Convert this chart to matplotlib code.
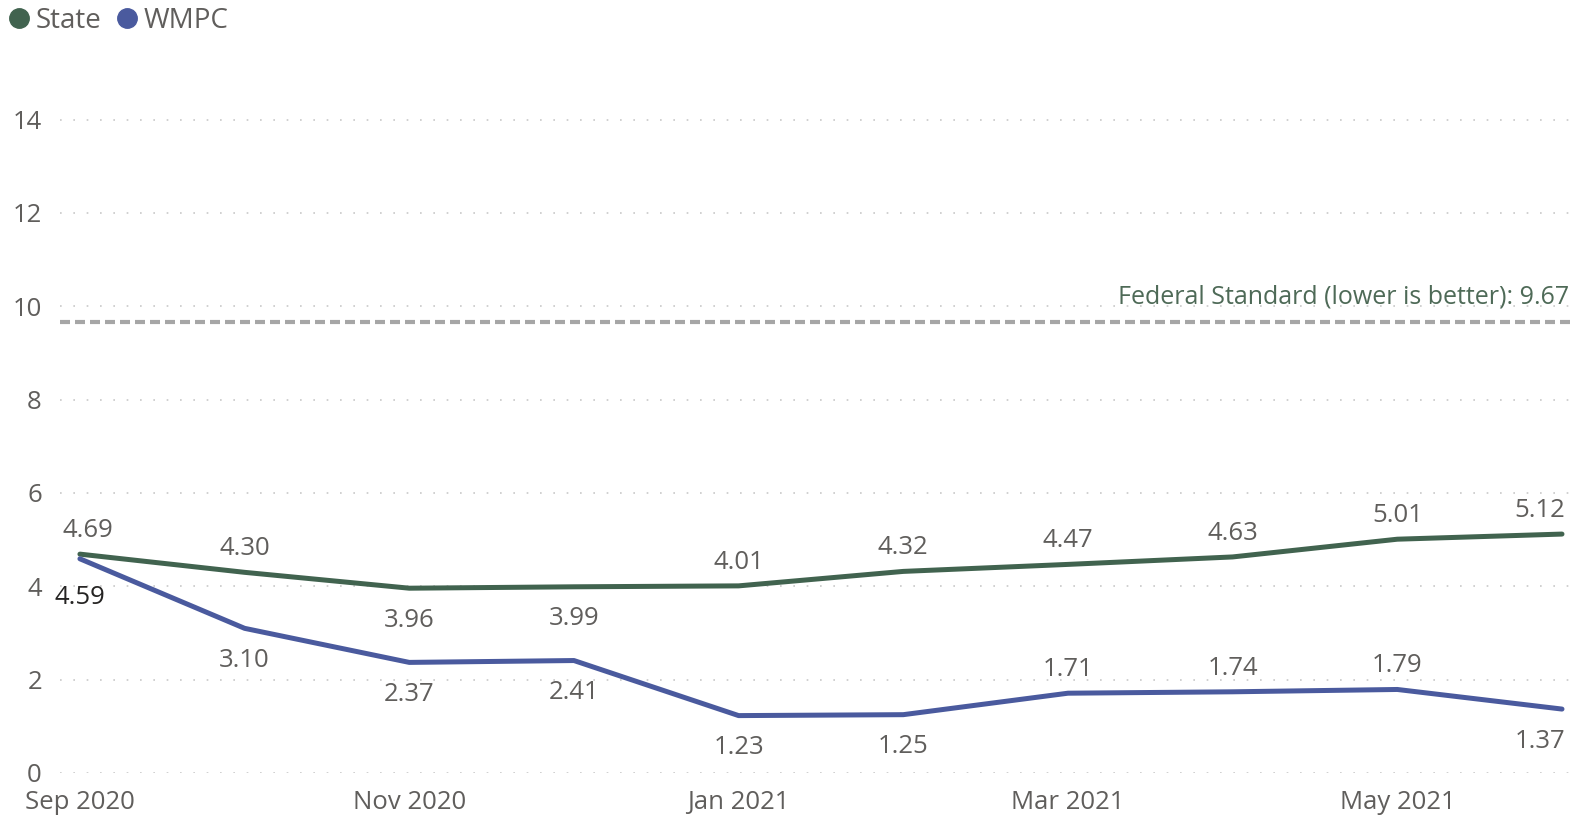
import numpy as np
import matplotlib
matplotlib.use("Agg")
import matplotlib.pyplot as plt
import matplotlib.transforms as mtransforms
from matplotlib.lines import Line2D

# ---------------------------------------------------------------------------
# Data
# ---------------------------------------------------------------------------

months = ["Sep 2020", "Oct 2020", "Nov 2020", "Dec 2020", "Jan 2021",
          "Feb 2021", "Mar 2021", "Apr 2021", "May 2021", "Jun 2021"]
state = [4.69, 4.30, 3.96, 3.99, 4.01, 4.32, 4.47, 4.63, 5.01, 5.12]
wmpc = [4.59, 3.10, 2.37, 2.41, 1.23, 1.25, 1.71, 1.74, 1.79, 1.37]
federal_standard = 9.67

# label placement: +1 above the point, -1 below
state_side = [1, 1, -1, -1, 1, 1, 1, 1, 1, 1]
wmpc_side = [-1, -1, -1, -1, -1, -1, 1, 1, 1, -1]

STATE_COLOR = "#41634F"
WMPC_COLOR = "#4A5A9E"
TEXT_COLOR = "#605E5C"
FED_COLOR = "#A6A6A6"
FED_TEXT = "#4E6A57"

plt.rcParams["font.family"] = ["Open Sans", "DejaVu Sans"]

fig = plt.figure(figsize=(15.91, 8.16), dpi=100)
ax = fig.add_axes([60 / 1591, 43 / 816, 1515 / 1591, 700 / 816])

x = np.arange(len(months))
ax.plot(x, state, color=STATE_COLOR, lw=3.6, solid_capstyle="round",
        solid_joinstyle="round", zorder=3)
ax.plot(x, wmpc, color=WMPC_COLOR, lw=3.6, solid_capstyle="round",
        solid_joinstyle="round", zorder=3)

ax.axhline(federal_standard, color=FED_COLOR, lw=3, linestyle=(0, (2.4, 1.2)), zorder=2)
fed_tr = ax.get_yaxis_transform() + mtransforms.ScaledTranslation(0, 25 / 100, fig.dpi_scale_trans)
ax.text(0.996, federal_standard, f"Federal Standard (lower is better): {federal_standard:.2f}",
        transform=fed_tr, ha="right", va="center", fontsize=18, color=FED_TEXT)


def label_series(vals, sides, first_color=None, first_dy=None):
    n = len(vals)
    for i, (v, s) in enumerate(zip(vals, sides)):
        dx = 0
        if i == 0:
            dx = 6
        elif i == n - 1:
            dx = -16
        dy = 17 if s > 0 else -23
        col = TEXT_COLOR
        if i == 0 and first_color:
            col = first_color
            dx = 0
            dy = first_dy
        ax.annotate(f"{v:.2f}", (i, v), xytext=(dx, dy), textcoords="offset points",
                    ha="center", va="center", fontsize=18.5, color=col, zorder=4)


label_series(state, state_side)
label_series(wmpc, wmpc_side, first_color="#252423", first_dy=-28)

ax.set_xlim(-0.121, 9.079)
ax.set_ylim(0, 15)
ax.set_yticks(np.arange(0, 15, 2))
ax.set_xticks(x[::2])
ax.set_xticklabels(months[::2])
ax.grid(axis="y", color="#C8C8C8", lw=1.2, linestyle=(0, (1, 7)))
ax.set_axisbelow(True)
for sp in ax.spines.values():
    sp.set_visible(False)
ax.tick_params(axis="both", length=0, labelsize=18.5, labelcolor=TEXT_COLOR)
ax.tick_params(axis="y", pad=13)
ax.tick_params(axis="x", pad=12)

handles = [
    Line2D([], [], marker="o", color=STATE_COLOR, linestyle="none", markersize=14),
    Line2D([], [], marker="o", color=WMPC_COLOR, linestyle="none", markersize=14),
]
fig.legend(handles, ["State", "WMPC"], loc="upper left", bbox_to_anchor=(-0.007, 1.012),
           frameon=False, ncol=2, fontsize=20, handletextpad=0.1, columnspacing=0.4,
           handlelength=1.0, labelcolor=TEXT_COLOR, borderaxespad=0.2)

fig.savefig("out.png", dpi=100)
